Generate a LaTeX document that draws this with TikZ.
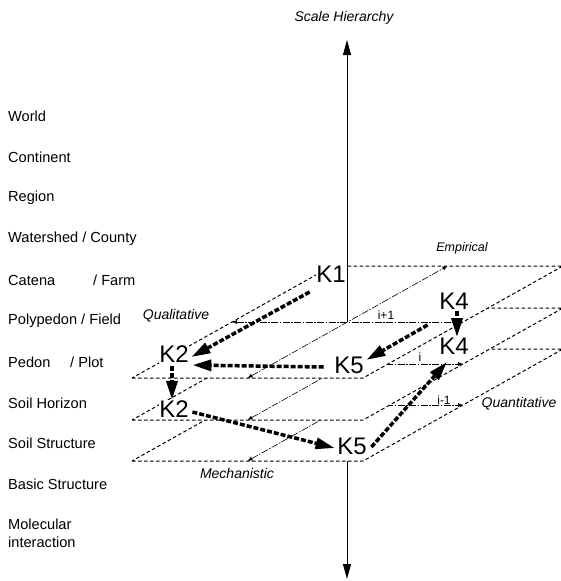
\documentclass[tikz,border=0pt]{standalone}
\usepackage{fontspec}
\setmainfont{Liberation Sans}
\usetikzlibrary{arrows.meta}
\begin{document}
\begin{tikzpicture}[x=1pt,y=-1pt,
  plane/.style={draw=black, fill=white, line width=1pt, dash pattern=on 3.5pt off 2.5pt},
  cline/.style={line width=0.6pt, dash pattern=on 7pt off 1.5pt on 1.5pt off 1.5pt, {Latex[length=5pt,width=4pt]}-{Latex[length=5pt,width=4pt]}},
  axisline/.style={line width=1pt, -{Triangle[length=15pt,width=8pt]}},
  kbox/.style={font=\fontsize{24}{24}\selectfont, fill=white, inner sep=0.5pt},
  karrow/.style={line width=3.5pt, dash pattern=on 5pt off 2pt, -{Triangle[length=19pt,width=11pt]}},
  lvl/.style={anchor=west, font=\fontsize{14.6}{18}\selectfont, inner sep=0pt, align=left},
  ital/.style={font=\fontsize{14}{16}\selectfont\itshape, inner sep=0pt},
  smalllab/.style={font=\fontsize{12}{13}\selectfont, inner sep=0pt},
  pics/layer/.style={code={
    \draw[plane] (132,378) -- (363,378) -- (563,266) -- (332,266) -- cycle;
    \draw[cline] (232,322) -- (463,322);
    \draw[cline] (247.5,378) -- (447.5,266);
  }}
]
\useasboundingbox (0,0) rectangle (561,581);

% lower part of the scale axis (hidden behind the planes)
\coordinate (axbot0) at (347,404);
\coordinate (axbot1) at (347,579);
\draw[axisline] (axbot0) -- (axbot1);

% three levels (i-1, i, i+1), drawn from bottom to top
\pic at (0,83) {layer};
\pic at (0,42) {layer};
\pic at (0,0) {layer};

% upper part of the scale axis
\coordinate (axtop0) at (347,322);
\coordinate (axtop1) at (347,40);
\draw[axisline] (axtop0) -- (axtop1);

% titles and axis labels
\node[ital] (title) at (344,18) {Scale Hierarchy};
\node[ital, font=\fontsize{12.5}{15}\selectfont\itshape] (emp) at (462,248) {Empirical};
\node[ital] (qual) at (176,316) {Qualitative};
\node[ital] (quant) at (519,404) {Quantitative};
\node[ital] (mech) at (237,473) {Mechanistic};

\node[smalllab] (lip1) at (386,315) {i+1};
\node[smalllab] (li) at (420,357) {i};
\node[smalllab] (lim1) at (444,400) {i-1};

% hierarchy levels
\node[lvl] (w) at (8,116) {World};
\node[lvl] (c) at (8,157) {Continent};
\node[lvl] (r) at (8,198) {Region};
\node[lvl] (ws) at (8,239) {Watershed / County};
\node[lvl] (ca) at (8,280) {Catena};
\node[lvl] (caf) at (93,280) {/ Farm};
\node[lvl] (pp) at (8,321) {Polypedon / Field};
\node[lvl] (pe) at (8,362) {Pedon};
\node[lvl] (pep) at (70,362) {/ Plot};
\node[lvl] (sh) at (8,403) {Soil Horizon};
\node[lvl] (ss) at (8,443) {Soil Structure};
\node[lvl] (bs) at (8,484) {Basic Structure};
\node[lvl] (mi) at (8,533) {Molecular\\interaction};

% knowledge nodes
\node[kbox] (K1) at (331,274) {K1};
\node[kbox] (K2a) at (174,354) {K2};
\node[kbox] (K2b) at (174,409) {K2};
\node[kbox] (K5a) at (349,365) {K5};
\node[kbox] (K5b) at (352,446) {K5};
\node[kbox] (K4a) at (454,301) {K4};
\node[kbox] (K4b) at (454,346) {K4};

% knowledge transfer arrows
\draw[karrow] ([shift={(-6,9)}]K1.south west) -- ([shift={(2,3)}]K2a.east);
\draw[karrow] ([shift={(-10,2)}]K5a.west) -- ([shift={(3,2)}]K2a.south east);
\draw[karrow] ([shift={(-2,3)}]K2a.south) -- ([shift={(-2,0)}]K2b.north);
\draw[karrow] ([shift={(3,3)}]K2b.east) -- ([shift={(-2,2)}]K5b.west);
\draw[karrow] ([shift={(4,1)}]K5b.east) -- ([shift={(-7,7)}]K4b.south);
\draw[karrow] ([shift={(3,1)}]K4a.south) -- ([shift={(3,0)}]K4b.north);
\draw[karrow] ([shift={(-11,15)}]K4a.south west) -- ([shift={(2,4)}]K5a.north east);
\end{tikzpicture}
\end{document}
